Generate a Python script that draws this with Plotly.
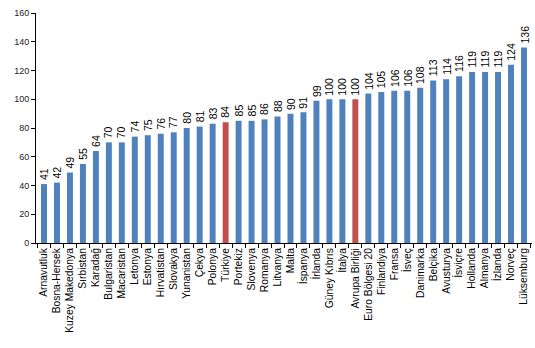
import plotly.graph_objects as go

categories = ["Arnavutluk", "Bosna-Hersek", "Kuzey Makedonya", "Sırbistan", "Karadağ",
              "Bulgaristan", "Macaristan", "Letonya", "Estonya", "Hırvatistan", "Slovakya",
              "Yunanistan", "Çekya", "Polonya", "Türkiye", "Portekiz", "Slovenya", "Romanya",
              "Litvanya", "Malta", "İspanya", "İrlanda", "Güney Kıbrıs", "İtalya",
              "Avrupa Birliği", "Euro Bölgesi 20", "Finlandiya", "Fransa", "İsveç",
              "Danimarka", "Belçika", "Avusturya", "İsviçre", "Hollanda", "Almanya",
              "İzlanda", "Norveç", "Lüksemburg"]
values = [41, 42, 49, 55, 64, 70, 70, 74, 75, 76, 77, 80, 81, 83, 84, 85, 85, 86, 88, 90,
          91, 99, 100, 100, 100, 104, 105, 106, 106, 108, 113, 114, 116, 119, 119, 119, 124, 136]
highlight = ["Türkiye", "Avrupa Birliği"]

BLUE = "#4F81BD"
RED = "#C0504D"
FONT = "Liberation Sans, Arial, sans-serif"
colors = [RED if c in highlight else BLUE for c in categories]

fig = go.Figure(go.Bar(
    x=categories, y=values,
    marker=dict(color=colors, line=dict(width=0)),
))

for c, v in zip(categories, values):
    fig.add_annotation(
        x=c, y=v, text=str(v), showarrow=False,
        textangle=-90, xanchor="center", yanchor="bottom", yshift=2,
        font=dict(family=FONT, size=10.5, color="#000000"),
    )

fig.update_layout(
    width=535, height=348,
    margin=dict(l=36, r=3, t=13, b=105),
    paper_bgcolor="white", plot_bgcolor="white",
    bargap=0.54,
    showlegend=False,
    font=dict(family=FONT, size=10, color="#000000"),
)
fig.update_yaxes(
    range=[0, 160], dtick=20, showgrid=False, zeroline=False,
    showline=True, linecolor="#000000", linewidth=1,
    ticks="outside", ticklen=4, tickcolor="#000000",
    tickfont=dict(size=9, color="#222222"),
)
fig.update_xaxes(
    showgrid=False, showline=True, linecolor="#000000", linewidth=1,
    ticks="outside", ticklen=4, tickcolor="#000000", tickson="boundaries",
    tickangle=-90, tickfont=dict(size=10.3, color="#000000"),
)

fig.write_html("out.html")
